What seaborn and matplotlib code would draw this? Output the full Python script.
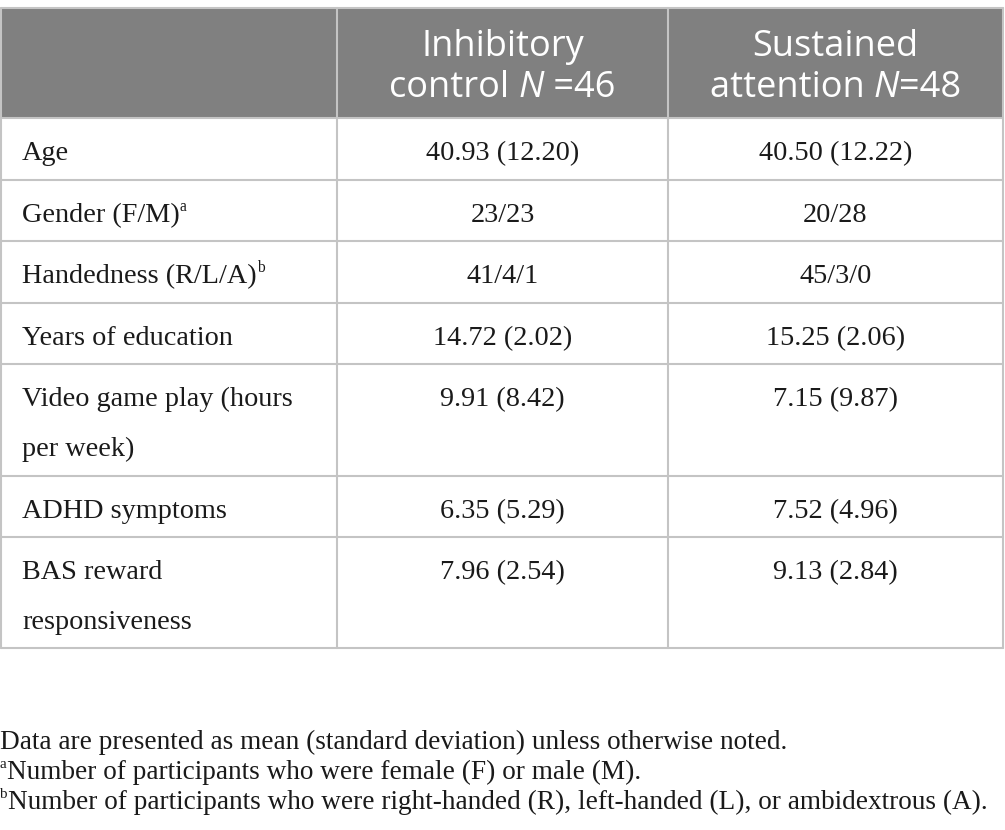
import matplotlib
matplotlib.use("Agg")
import matplotlib.pyplot as plt
import seaborn as sns

# table content
col_headers = [["Inhibitory", "control |N| =46"], ["Sustained", "attention |N|=48"]]
row_labels = [
    ["Age"],
    ["Gender (F/M)^a"],
    ["Handedness (R/L/A)^b"],
    ["Years of education"],
    ["Video game play (hours", "per week)"],
    ["ADHD symptoms"],
    ["BAS reward", "responsiveness"],
]
inhibitory = ["40.93 (12.20)", "23/23", "41/4/1", "14.72 (2.02)", "9.91 (8.42)", "6.35 (5.29)", "7.96 (2.54)"]
sustained = ["40.50 (12.22)", "20/28", "45/3/0", "15.25 (2.06)", "7.15 (9.87)", "7.52 (4.96)", "9.13 (2.84)"]
notes = [
    "Data are presented as mean (standard deviation) unless otherwise noted.",
    "^aNumber of participants who were female (F) or male (M).",
    "^bNumber of participants who were right-handed (R), left-handed (L), or ambidextrous (A).",
]

sns.set_theme(style="white")
plt.rcParams["font.family"] = ["Liberation Serif", "DejaVu Serif"]

fig = plt.figure(figsize=(10.05, 8.3), dpi=100)
ax = fig.add_axes([0, 0, 1, 1])
ax.set_xlim(0, 1005)
ax.set_ylim(830, 0)
ax.axis("off")

row_edges = [8, 118, 180, 241, 303, 364, 476, 537, 648]
col_edges = [0.5, 337, 668, 1003]
line_col = "#c4c4c4"
head_col = "#808080"

ax.add_patch(plt.Rectangle((col_edges[0], row_edges[0]), col_edges[-1] - col_edges[0],
                           row_edges[1] - row_edges[0], color=head_col, lw=0, zorder=0))
for y in row_edges:
    ax.plot([col_edges[0], col_edges[-1]], [y, y], color=line_col, lw=1.5, zorder=1)
for x in col_edges:
    ax.plot([x, x], [row_edges[0], row_edges[-1]], color=line_col, lw=1.5, zorder=1)

renderer = fig.canvas.get_renderer()
body_size = 20.3
head_size = 26
text_col = "#1a1a1a"


def width_of(t):
    bb = t.get_window_extent(renderer=renderer)
    return bb.width


def draw_rich(x, y, s, size, color, family, ha="left"):
    # pieces: "^x" -> superscript, "|x|" -> italic
    pieces = []
    if s.startswith("^"):
        pieces.append((s[1], "sup"))
        s = s[2:]
    parts = s.split("|")
    for i, p in enumerate(parts):
        if "^" in p:
            a, b = p.split("^")
            if a:
                pieces.append((a, "it" if i % 2 else "n"))
            pieces.append((b, "sup"))
        elif p:
            pieces.append((p, "it" if i % 2 else "n"))
    arts = []
    for txt, kind in pieces:
        kw = dict(fontsize=size, color=color, family=family, va="baseline", ha="left")
        dy = 0
        if kind == "it":
            kw["style"] = "italic"
        if kind == "sup":
            kw["fontsize"] = size * 0.55
            dy = -size * 0.55
        t = ax.text(0, y + dy, txt, **kw)
        arts.append(t)
    total = sum(width_of(t) for t in arts)
    cx = x - total / 2 if ha == "center" else x
    for t in arts:
        t.set_x(cx)
        cx += width_of(t)


# header
head_family = ["Open Sans", "DejaVu Sans"]
for j, lines in enumerate(col_headers):
    cx = (col_edges[j + 1] + col_edges[j + 2]) / 2
    for k, line in enumerate(lines):
        draw_rich(cx, 56 + 41 * k, line, head_size, "white", head_family, ha="center")

# body
body_family = ["Liberation Serif", "DejaVu Serif"]
for i, lines in enumerate(row_labels):
    base = row_edges[i + 1] + 42
    for k, line in enumerate(lines):
        draw_rich(22, base + 50 * k, line, body_size, text_col, body_family)
    for j, vals in enumerate([inhibitory, sustained]):
        cx = (col_edges[j + 1] + col_edges[j + 2]) / 2
        draw_rich(cx, base, vals[i], body_size, text_col, body_family, ha="center")

# footnotes
for k, line in enumerate(notes):
    draw_rich(0, 749 + 30 * k, line, body_size * 0.965, text_col, body_family)

fig.savefig("out.png", dpi=100)
